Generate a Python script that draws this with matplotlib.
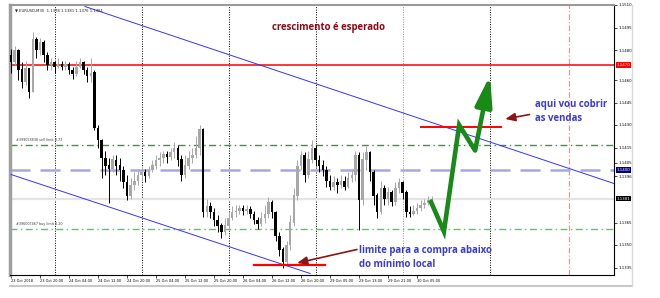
import matplotlib
matplotlib.use('Agg')
import matplotlib.pyplot as plt
from matplotlib.lines import Line2D
import numpy as np

# EURUSD hourly candles
first_open = 1.1477
close = [1.1472, 1.1480, 1.1467, 1.1459, 1.1468, 1.1452, 1.1487, 1.1480, 1.1485, 1.1477,
         1.1470, 1.1472, 1.1469, 1.1471, 1.1469, 1.1471, 1.1467, 1.1464, 1.1469, 1.1472,
         1.1467, 1.1463, 1.1465, 1.1428, 1.1420, 1.1408, 1.1403, 1.1401, 1.1407, 1.1403,
         1.1400, 1.1392, 1.1383, 1.1390, 1.1393, 1.1397, 1.1399, 1.1396, 1.1400, 1.1403,
         1.1407, 1.1408, 1.1411, 1.1409, 1.1412, 1.1415, 1.1407, 1.1397, 1.1403, 1.1408,
         1.1410, 1.1415, 1.1427, 1.1372, 1.1376, 1.1372, 1.1367, 1.1363, 1.1359, 1.1363,
         1.1368, 1.1372, 1.1373, 1.1375, 1.1373, 1.1374, 1.1371, 1.1367, 1.1364, 1.1368,
         1.1371, 1.1379, 1.1372, 1.1356, 1.1347, 1.1339, 1.1350, 1.1365, 1.1383, 1.1403,
         1.1410, 1.1397, 1.1407, 1.1415, 1.1407, 1.1403, 1.1400, 1.1393, 1.1389, 1.1392,
         1.1390, 1.1393, 1.1389, 1.1395, 1.1397, 1.1410, 1.1380, 1.1407, 1.1412, 1.1399,
         1.1383, 1.1372, 1.1388, 1.1381, 1.1385, 1.1379, 1.1388, 1.1392, 1.1385, 1.1372,
         1.1371, 1.1373, 1.1375, 1.1377, 1.1378, 1.1380, 1.1381]
high = [1.1481, 1.1483, 1.1481, 1.1472, 1.1473, 1.1467, 1.1492, 1.1489, 1.1488, 1.1487,
        1.1479, 1.1475, 1.1473, 1.1475, 1.1473, 1.1473, 1.1472, 1.1469, 1.1473, 1.1475,
        1.1473, 1.1469, 1.1475, 1.1467, 1.1430, 1.1421, 1.1413, 1.1408, 1.1410, 1.1410,
        1.1408, 1.1403, 1.1397, 1.1395, 1.1399, 1.1401, 1.1403, 1.1401, 1.1403, 1.1407,
        1.1410, 1.1412, 1.1413, 1.1413, 1.1415, 1.1419, 1.1417, 1.1410, 1.1410, 1.1413,
        1.1415, 1.1423, 1.1430, 1.1428, 1.1381, 1.1379, 1.1375, 1.1370, 1.1365, 1.1368,
        1.1372, 1.1376, 1.1377, 1.1377, 1.1377, 1.1377, 1.1376, 1.1373, 1.1369, 1.1372,
        1.1377, 1.1382, 1.1380, 1.1373, 1.1359, 1.1349, 1.1353, 1.1370, 1.1388, 1.1407,
        1.1413, 1.1412, 1.1413, 1.1420, 1.1417, 1.1410, 1.1407, 1.1403, 1.1397, 1.1396,
        1.1395, 1.1397, 1.1396, 1.1399, 1.1401, 1.1413, 1.1412, 1.1412, 1.1416, 1.1413,
        1.1400, 1.1385, 1.1393, 1.1390, 1.1389, 1.1387, 1.1392, 1.1395, 1.1393, 1.1387,
        1.1376, 1.1377, 1.1378, 1.1380, 1.1381, 1.1383, 1.1383]
low = [1.1465, 1.1470, 1.1460, 1.1455, 1.1457, 1.1448, 1.1452, 1.1475, 1.1477, 1.1472,
       1.1467, 1.1467, 1.1465, 1.1468, 1.1467, 1.1467, 1.1464, 1.1461, 1.1463, 1.1468,
       1.1464, 1.1459, 1.1459, 1.1427, 1.1415, 1.1395, 1.1397, 1.1378, 1.1399, 1.1397,
       1.1393, 1.1388, 1.1380, 1.1381, 1.1387, 1.1390, 1.1393, 1.1392, 1.1395, 1.1399,
       1.1401, 1.1403, 1.1405, 1.1405, 1.1407, 1.1408, 1.1403, 1.1393, 1.1395, 1.1401,
       1.1405, 1.1408, 1.1410, 1.1369, 1.1369, 1.1368, 1.1363, 1.1359, 1.1355, 1.1357,
       1.1361, 1.1367, 1.1369, 1.1371, 1.1370, 1.1371, 1.1368, 1.1364, 1.1361, 1.1363,
       1.1365, 1.1368, 1.1368, 1.1353, 1.1343, 1.1335, 1.1336, 1.1347, 1.1363, 1.1380,
       1.1400, 1.1392, 1.1395, 1.1405, 1.1403, 1.1399, 1.1396, 1.1389, 1.1387, 1.1387,
       1.1385, 1.1388, 1.1387, 1.1388, 1.1392, 1.1393, 1.1360, 1.1377, 1.1400, 1.1393,
       1.1377, 1.1368, 1.1371, 1.1377, 1.1377, 1.1376, 1.1377, 1.1385, 1.1381, 1.1369,
       1.1369, 1.1370, 1.1371, 1.1373, 1.1375, 1.1377, 1.1378]

time_labels = ['23 Oct 2018', '23 Oct 20:00', '24 Oct 04:00', '24 Oct 12:00', '24 Oct 20:00',
               '25 Oct 04:00', '25 Oct 12:00', '25 Oct 20:00', '26 Oct 04:00', '26 Oct 12:00',
               '26 Oct 20:00', '29 Oct 05:00', '29 Oct 13:00', '29 Oct 21:00', '30 Oct 05:00']
price_ticks = [1.1510, 1.1495, 1.1480, 1.1460, 1.1445, 1.1430, 1.1415, 1.1405, 1.1396,
               1.1365, 1.1350, 1.1335]
day_separators = [12, 36, 60, 84, 108, 132]

# levels and drawn objects
resistance = 1.1470
sell_limit = 1.1417
round_level = 1.1400
bid = 1.1381
buy_limit = 1.1361
upper_x, upper_y = [20.4, 166.3], [1.1509, 1.1391]
lower_x, lower_y = [0, 82.5], [1.1397, 1.1331]
forecast_x = [115.6, 119.4, 123.6, 128.0, 132.1]
forecast_y = [1.1380, 1.1359, 1.1430, 1.1413, 1.1463]

W, H = 660, 298
fig = plt.figure(figsize=(6.6, 2.98), dpi=100, facecolor='white')
ax = fig.add_axes([10/W, 23/H, 604/W, 270/H])
ax.set_xlim(-0.28, 166.3)
ax.set_ylim(1.1330, 1.1510)

close = np.array(close)
high = np.array(high)
low = np.array(low)
opens = np.concatenate([[first_open], close[:-1]])
idx = np.arange(len(close))
colors = np.where(close >= opens, '#a8a8a8', '#000000')

# period separators
for d in day_separators:
    c = '#909090' if d == 108 else 'black'
    ax.axvline(d, color=c, lw=0.7, ls=(0, (1, 1.5)), zorder=1)
ax.axvline(154, color='#ff8c8c', lw=0.8, ls=(0, (5, 2, 1, 2)), zorder=1)

ax.axhline(resistance, color='#ff0000', lw=1.1, zorder=2)
ax.axhline(sell_limit, color='#2ea02e', lw=1.0, ls=(0, (5, 2.5, 1, 2.5)), zorder=2)
ax.axhline(round_level, color='#a6a6e0', lw=1.8, ls=(0, (8, 4)), zorder=2)
ax.axhline(bid, color='#e4e4e4', lw=1.6, zorder=1)
ax.axhline(buy_limit, color='#5cc85c', lw=1.0, ls=(0, (5, 2.5, 1, 2.5)), zorder=2)

ax.plot(upper_x, upper_y, color='#3434ff', lw=0.7, zorder=3)
ax.plot(lower_x, lower_y, color='#3434ff', lw=0.7, zorder=3)

# candles
ax.vlines(idx, low, high, colors=colors, lw=0.7, zorder=4)
body = np.maximum(np.abs(close - opens), 0.00004)
ax.bar(idx, body, bottom=np.minimum(opens, close), width=0.7, color=colors, zorder=4)

# red marks
ax.plot([113, 135], [1.1429, 1.1429], color='#ff0000', lw=1.4, zorder=5)
ax.plot([67, 86.6], [1.1337, 1.1337], color='#ff0000', lw=1.6, zorder=5)

# forecast zigzag
ax.plot(forecast_x[:-1], forecast_y[:-1], color='#178a17', lw=3.3, zorder=6,
        solid_joinstyle='miter', solid_capstyle='butt')
ax.annotate('', xy=(forecast_x[-1], forecast_y[-1]), xytext=(forecast_x[-2], forecast_y[-2]),
            arrowprops=dict(arrowstyle='-|>,head_length=1.8,head_width=0.5', lw=3.3,
                            color='#178a17', mutation_scale=10, shrinkA=0, shrinkB=0),
            zorder=6)

# annotations
arrow_red = dict(arrowstyle='-|>,head_length=0.6,head_width=0.25', lw=1.2,
                 color='#8b1515', mutation_scale=10, shrinkA=0, shrinkB=0)
ax.annotate('', xy=(78.9, 1.1338), xytext=(95.4, 1.1347), arrowprops=arrow_red, zorder=6)
ax.annotate('', xy=(136.3, 1.1434), xytext=(143.0, 1.1437), arrowprops=arrow_red, zorder=6)

txt = dict(family='Open Sans', weight='bold', fontsize=6.9)
ax.text(72, 1.1495, 'crescimento é esperado', color='#8b0a1a', va='center', **txt)
ax.text(96, 1.13417, 'limite para a compra abaixo\ndo mínimo local', color='#3a3ad8',
        va='center', linespacing=1.35, **txt)
ax.text(144.5, 1.1439, 'aqui vou cobrir\nas vendas', color='#3a3ad8', va='center',
        linespacing=1.35, **txt)

ax.text(1.5, sell_limit + 0.00015, '#399058838 sell limit 0.73', fontsize=2.4, color='#404040',
        va='bottom')
ax.text(1.5, buy_limit + 0.00015, '#396007467 buy limit 0.20', fontsize=2.4, color='#404040',
        va='bottom')
ax.text(0.008, 0.988, '\u25bc EURUSD,M30  1.1378 1.1381 1.1376 1.1381', transform=ax.transAxes,
        fontsize=2.7, va='top', color='#202020')

# axes
ax.yaxis.tick_right()
ax.set_yticks(price_ticks)
ax.set_yticklabels(['%.4f' % p for p in price_ticks], fontsize=2.8)
ax.set_xticks(np.arange(len(time_labels)) * 8)
ax.set_xticklabels(time_labels, fontsize=2.5, ha='left')
ax.tick_params(axis='both', length=2, width=0.5, pad=1, colors='black')

for val, fc in [(resistance, '#ff0000'), (round_level, '#000080'), (bid, '#000000')]:
    ax.text(1.004, val, '%.4f' % val, transform=ax.get_yaxis_transform(), fontsize=2.8,
            color='white', va='center', ha='left',
            bbox=dict(boxstyle='square,pad=0.2', fc=fc, ec='none'))

ax.spines['left'].set_color('#a0a0a0')
ax.spines['left'].set_linewidth(2.5)
ax.spines['top'].set_color('#9a9a9a')
ax.spines['top'].set_linewidth(1.5)
ax.spines['right'].set_linewidth(0.8)
ax.spines['bottom'].set_linewidth(0.8)

fig.add_artist(Line2D([10/W, 632/W], [1 - 286/H, 1 - 286/H], color='#c8c8c8', lw=1.5))
fig.add_artist(Line2D([632/W, 632/W], [1 - 286/H, 1 - 5/H], color='#dadada', lw=1.0))

fig.savefig('out.png', dpi=100, facecolor='white')
